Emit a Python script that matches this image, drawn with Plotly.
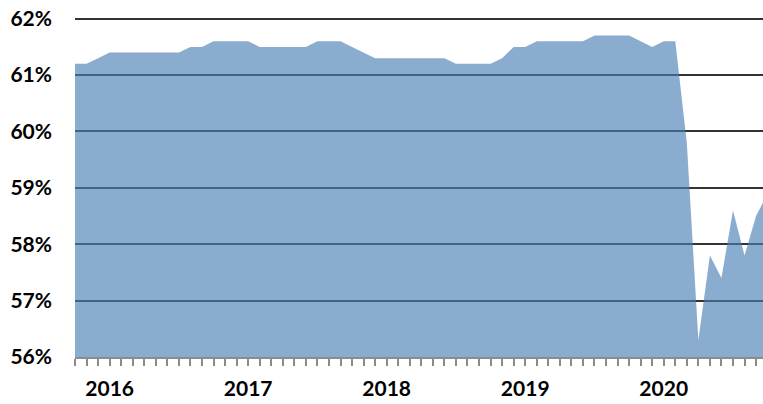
import plotly.graph_objects as go

# Monthly values, Oct 2015 .. Oct 2020 (percent)
years = [2015, 2016, 2017, 2018, 2019, 2020]
months = ["2015-10", "2015-11", "2015-12"] + [
    f"{y}-{m:02d}" for y in years[1:5] for m in range(1, 13)
] + [f"2020-{m:02d}" for m in range(1, 11)]

values = [
    61.2, 61.2, 61.3,                                                   # 2015 Q4
    61.4, 61.4, 61.4, 61.4, 61.4, 61.4, 61.4, 61.5, 61.5, 61.6, 61.6, 61.6,  # 2016
    61.6, 61.5, 61.5, 61.5, 61.5, 61.5, 61.6, 61.6, 61.6, 61.5, 61.4, 61.3,  # 2017
    61.3, 61.3, 61.3, 61.3, 61.3, 61.3, 61.2, 61.2, 61.2, 61.2, 61.3, 61.5,  # 2018
    61.5, 61.6, 61.6, 61.6, 61.6, 61.6, 61.7, 61.7, 61.7, 61.7, 61.6, 61.5,  # 2019
    61.6, 61.6, 59.8, 56.3, 57.8, 57.4, 58.6, 57.8, 58.5, 58.9,              # 2020
]

year_labels = ["2016", "2017", "2018", "2019", "2020"]
y_ticks = [56, 57, 58, 59, 60, 61, 62]
y_ticktext = [f"{v}%" for v in y_ticks]

tick_text = []
for m in months:
    y, mo = m.split("-")
    tick_text.append(y if (mo == "01" and y in year_labels) else "")

fig = go.Figure()
fig.add_trace(go.Scatter(
    x=months, y=values, mode="lines",
    line=dict(width=0, color="rgba(70,125,180,0.64)"),
    fill="tozeroy", fillcolor="rgba(70,125,180,0.64)",
    hoverinfo="skip", showlegend=False,
))

font = dict(family="Lato, 'Open Sans', sans-serif", size=21, color="#000000", weight="bold")

fig.update_layout(
    width=763, height=404,
    margin=dict(l=75, r=0, t=17, b=47, autoexpand=False),
    paper_bgcolor="white", plot_bgcolor="white",
    xaxis=dict(
        type="category",
        range=[0, 59.6],
        automargin=False,
        tickmode="array", tickvals=months, ticktext=tick_text,
        ticks="outside", ticklen=7, tickwidth=2, tickcolor="#8c8c8c",
        showline=True, linecolor="#8c8c8c", linewidth=2,
        showgrid=False, zeroline=False,
        tickfont=font, tickangle=0,
        ticklabelstandoff=5,
    ),
    yaxis=dict(
        range=[56, 62.03],
        automargin=False,
        tickmode="array", tickvals=y_ticks, ticktext=y_ticktext,
        showgrid=True, gridcolor="#333333", gridwidth=1.5,
        zeroline=False, showline=False, ticks="",
        tickfont=font, ticklabelstandoff=22,
    ),
)

fig.write_html(
    "out.html",
    config={"displayModeBar": False},
    post_script="document.body.style.margin='0';document.body.style.overflow='hidden';",
)
